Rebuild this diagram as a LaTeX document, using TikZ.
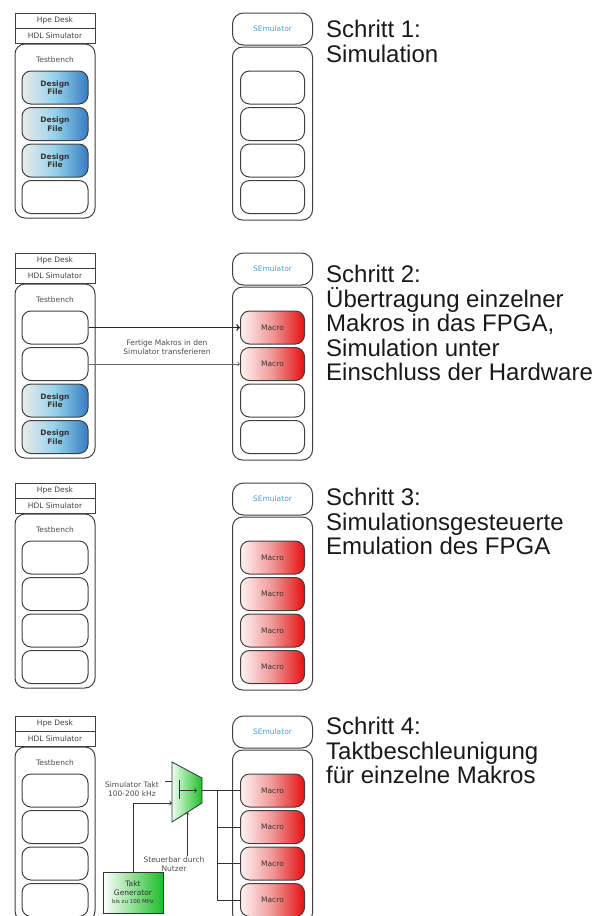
\documentclass[tikz,border=0pt]{standalone}
\usepackage{fontspec}
\setmainfont{Liberation Sans}
\newfontfamily\lblfont{DejaVu Sans}
\definecolor{dfblue}{RGB}{55,125,195}
\definecolor{dfcyan}{RGB}{150,210,235}
\definecolor{mcred}{RGB}{230,15,15}
\definecolor{mcpink}{RGB}{240,150,150}
\definecolor{tkgreen}{RGB}{30,190,40}
\definecolor{emublue}{RGB}{70,160,215}
\newcommand\lbl{\lblfont\fontsize{7.5}{8.5}\selectfont}
\tikzset{
  hdrbox/.style={draw=black!75, line width=1pt, minimum width=80pt, minimum height=15pt, inner sep=0pt, font=\lbl, text=black!75},
  benchbox/.style={draw=black!75, line width=1pt, rounded corners=10pt, minimum width=80pt, minimum height=174pt, inner sep=0pt},
  simbox/.style={benchbox, minimum height=173pt},
  emubox/.style={draw=black!75, line width=1pt, rounded corners=11pt, minimum width=80pt, minimum height=32pt, inner sep=0pt, font=\lbl, text=emublue},
  slotbox/.style={draw=black!75, line width=1pt, rounded corners=9pt, minimum width=66pt, minimum height=33pt, inner sep=0pt, font=\lbl, text=black!80, align=center},
  rslotbox/.style={slotbox, minimum width=64pt},
  designbox/.style={slotbox, left color=white!92!black, right color=dfblue, middle color=dfcyan},
  macrobox/.style={rslotbox, left color=white!95!red, right color=mcred, middle color=mcpink},
  infotext/.style={anchor=north west, align=left, inner sep=0pt, font=\fontsize{24}{24.5}\selectfont, text=black!90},
  smalltext/.style={font=\lbl, text=black!70, align=center, inner sep=1pt},
  wire/.style={draw=black!80, line width=0.8pt},
  >=to
}
\begin{document}
\begin{tikzpicture}[x=1pt,y=-1pt]
\useasboundingbox (0,0) rectangle (616,916);
% Schritt 1
\node[hdrbox] (hpe1) at (55,20.5) {Hpe Desk};
\node[hdrbox] (hdl1) at (55,35.5) {HDL Simulator};
\node[benchbox] (tb1) at (55,131) {};
\node[smalltext] (tbl1) at (55,60) {Testbench};
\node[designbox] (l11) at (55,87.5) {\textbf{Design}\\\textbf{File}};
\node[designbox] (l12) at (55,124) {\textbf{Design}\\\textbf{File}};
\node[designbox] (l13) at (55,160.5) {\textbf{Design}\\\textbf{File}};
\node[slotbox] (l14) at (55,197) {};
\node[emubox] (emu1) at (272.5,29) {SEmulator};
\node[simbox] (sim1) at (272.5,133.5) {};
\node[rslotbox] (m11) at (272.5,87.5) {};
\node[rslotbox] (m12) at (272.5,124) {};
\node[rslotbox] (m13) at (272.5,160.5) {};
\node[rslotbox] (m14) at (272.5,197) {};
\node[infotext] (info1) at (326,20) {Schritt 1:\\Simulation};
% Schritt 2
\node[hdrbox] (hpe2) at (55,260.5) {Hpe Desk};
\node[hdrbox] (hdl2) at (55,275.5) {HDL Simulator};
\node[benchbox] (tb2) at (55,371) {};
\node[smalltext] (tbl2) at (55,300) {Testbench};
\node[slotbox] (l21) at (55,327.5) {};
\node[slotbox] (l22) at (55,364) {};
\node[designbox] (l23) at (55,400.5) {\textbf{Design}\\\textbf{File}};
\node[designbox] (l24) at (55,437) {\textbf{Design}\\\textbf{File}};
\node[emubox] (emu2) at (272.5,269) {SEmulator};
\node[simbox] (sim2) at (272.5,373.5) {};
\node[macrobox] (m21) at (272.5,327.5) {Macro};
\node[macrobox] (m22) at (272.5,364) {Macro};
\node[rslotbox] (m23) at (272.5,400.5) {};
\node[rslotbox] (m24) at (272.5,437) {};
\node[smalltext] (xfer) at (167,347) {Fertige Makros in den\\Simulator transferieren};
\draw[->, line width=1.4pt, black!85] (l21.east) -- (m21.west);
\draw[->, line width=0.8pt, black!60] (l22.east) -- (m22.west);
\node[infotext] (info2) at (326,265) {Schritt 2:\\Übertragung einzelner\\Makros in das FPGA,\\Simulation unter\\Einschluss der Hardware};
% Schritt 3
\node[hdrbox] (hpe3) at (55,490.5) {Hpe Desk};
\node[hdrbox] (hdl3) at (55,505.5) {HDL Simulator};
\node[benchbox] (tb3) at (55,601) {};
\node[smalltext] (tbl3) at (55,530) {Testbench};
\node[slotbox] (l31) at (55,557.5) {};
\node[slotbox] (l32) at (55,594) {};
\node[slotbox] (l33) at (55,630.5) {};
\node[slotbox] (l34) at (55,667) {};
\node[emubox] (emu3) at (272.5,499) {SEmulator};
\node[simbox] (sim3) at (272.5,603.5) {};
\node[macrobox] (m31) at (272.5,557.5) {Macro};
\node[macrobox] (m32) at (272.5,594) {Macro};
\node[macrobox] (m33) at (272.5,630.5) {Macro};
\node[macrobox] (m34) at (272.5,667) {Macro};
\node[infotext] (info3) at (326,488) {Schritt 3:\\Simulationsgesteuerte\\Emulation des FPGA};
% Schritt 4
\node[hdrbox] (hpe4) at (55,723.5) {Hpe Desk};
\node[hdrbox] (hdl4) at (55,738.5) {HDL Simulator};
\node[benchbox] (tb4) at (55,834) {};
\node[smalltext] (tbl4) at (55,763) {Testbench};
\node[slotbox] (l41) at (55,790.5) {};
\node[slotbox] (l42) at (55,827) {};
\node[slotbox] (l43) at (55,863.5) {};
\node[slotbox] (l44) at (55,900) {};
\node[emubox] (emu4) at (272.5,732) {SEmulator};
\node[simbox] (sim4) at (272.5,836.5) {};
\node[macrobox] (m41) at (272.5,790.5) {Macro};
\node[macrobox] (m42) at (272.5,827) {Macro};
\node[macrobox] (m43) at (272.5,863.5) {Macro};
\node[macrobox] (m44) at (272.5,900) {Macro};
% Multiplexer
\shade[draw=black!80, line width=0.8pt, left color=green!8, right color=tkgreen] (172,762) -- (202,778) -- (202,803) -- (172,822) -- cycle;
\draw[wire] (179,780) -- (179,799);
\draw[wire, ->] (179,790.5) -- (197,790.5);
\coordinate (muxa) at (172,781);
\coordinate (muxb) at (172,803);
\coordinate (muxo) at (202,790.5);
\coordinate (muxc) at (187,812);
\coordinate (taktin) at (165,781);
\coordinate (bus) at (217,790.5);
\node[smalltext] (takt) at (132,789) {Simulator Takt\\100-200 kHz};
\node[smalltext] (ctl) at (174,864) {Steuerbar durch\\Nutzer};
\node[draw=black!80, line width=0.8pt, minimum width=60pt, minimum height=41pt, inner sep=0pt, left color=white, right color=tkgreen, font=\lbl, text=black!80, align=center] (gen) at (133,892.5) {Takt\\Generator\\{\fontsize{5.5}{6.5}\selectfont bis zu 100 MHz}};
\draw[wire] (taktin) -- (muxa);
\draw[wire, ->] (gen.north) |- (muxb);
\draw[wire, ->] (ctl.north -| muxc) -- (muxc);
\draw[wire] (muxo) -- (m41.west);
\draw[wire] (bus) |- (m44.west);
\draw[wire] (bus |- m42) -- (m42.west);
\draw[wire] (bus |- m43) -- (m43.west);
\node[infotext] (info4) at (326,717) {Schritt 4:\\Taktbeschleunigung\\für einzelne Makros};
\end{tikzpicture}
\end{document}
